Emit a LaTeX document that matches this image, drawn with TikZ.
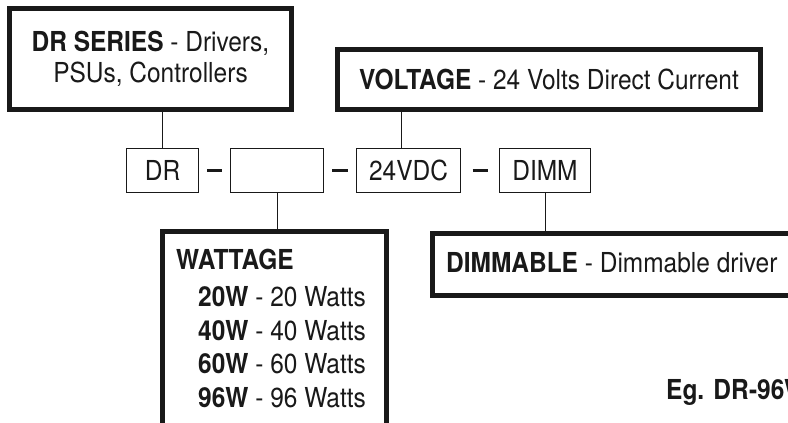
\documentclass[tikz,border=0pt]{standalone}
\usepackage{fontspec}
\setmainfont{TeX Gyre Heros}[FakeStretch=0.89]
\usetikzlibrary{calc}
\begin{document}
\begin{tikzpicture}[x=1pt,y=-1pt,
  thickbox/.style={draw=black!90, line width=5pt, inner sep=0pt, fill=white},
  thinbox/.style={draw=black!90, line width=1.3pt, inner sep=0pt, minimum height=44pt},
  conn/.style={draw=black!90, line width=1pt},
  dashbar/.style={draw=black!90, line width=3.5pt},
  txt/.style={inner sep=0pt, text=black!90, font=\fontsize{27.5}{34}\selectfont},
]
\clip (0,0) rectangle (788,423);
\fill[white] (0,0) rectangle (788,423);

% big description boxes
\node[thickbox, txt, font=\fontsize{27.5}{31.5}\selectfont, align=center, minimum width=282pt, minimum height=101pt] (series) at (150.5,59)
  {\textbf{DR SERIES} - Drivers,\\PSUs, Controllers};
\node[thickbox, txt, minimum width=423pt, minimum height=60pt] (volt) at (549,79.5)
  {\textbf{VOLTAGE} - 24 Volts Direct Current};
\node[thickbox, anchor=north, minimum width=224pt, minimum height=220pt] (watt) at (274.5,228.5) {};
\node[thickbox, anchor=north west, minimum width=400pt, minimum height=62pt] (dimmable) at (429.5,230.5) {};

% code boxes
\node[thinbox, txt, minimum width=72pt] (dr) at (162.5,170.5) {DR};
\node[thinbox, txt, minimum width=93pt] (blank) at (277,170.5) {};
\node[thinbox, txt, minimum width=104pt] (v24) at (408.5,170.5) {24VDC\hspace{8pt}};
\node[thinbox, txt, minimum width=91pt] (dimm) at (545,170.5) {DIMM};

% dashes
\draw[dashbar] ($(dr.east)!0.5!(blank.west)$) +(-7.5,0) -- +(7.5,0);
\draw[dashbar] ($(blank.east)!0.5!(v24.west)$) +(-8,0) -- +(8,0);
\draw[dashbar] ($(v24.east)!0.5!(dimm.west)$) +(-7.5,0) -- +(7.5,0);

% connectors
\draw[conn] (dr.north |- series.south) -- (dr.north);
\draw[conn] ([xshift=-7.5pt]v24.north |- volt.south) -- ([xshift=-7.5pt]v24.north);
\draw[conn] (blank.south) -- (blank.south |- watt.north);
\draw[conn] (dimm.south) -- (dimm.south |- dimmable.north);

% wattage text
\node[txt, anchor=base west] (wt) at (176,269) {\textbf{WATTAGE}};
\node[txt, anchor=base west] (w20) at (198,306) {\textbf{20W} - 20 Watts};
\node[txt, anchor=base west] (w40) at (198,340) {\textbf{40W} - 40 Watts};
\node[txt, anchor=base west] (w60) at (198,373.5) {\textbf{60W} - 60 Watts};
\node[txt, anchor=base west] (w96) at (198,407) {\textbf{96W} - 96 Watts};

% dimmable text
\node[txt, anchor=base west] (dt) at (446,272) {\textbf{DIMMABLE} - Dimmable driver};

% example
\node[txt, anchor=base west] (eg) at (666,399) {\textbf{Eg. DR-96W-24VDC-DIMM}};
\end{tikzpicture}
\end{document}
